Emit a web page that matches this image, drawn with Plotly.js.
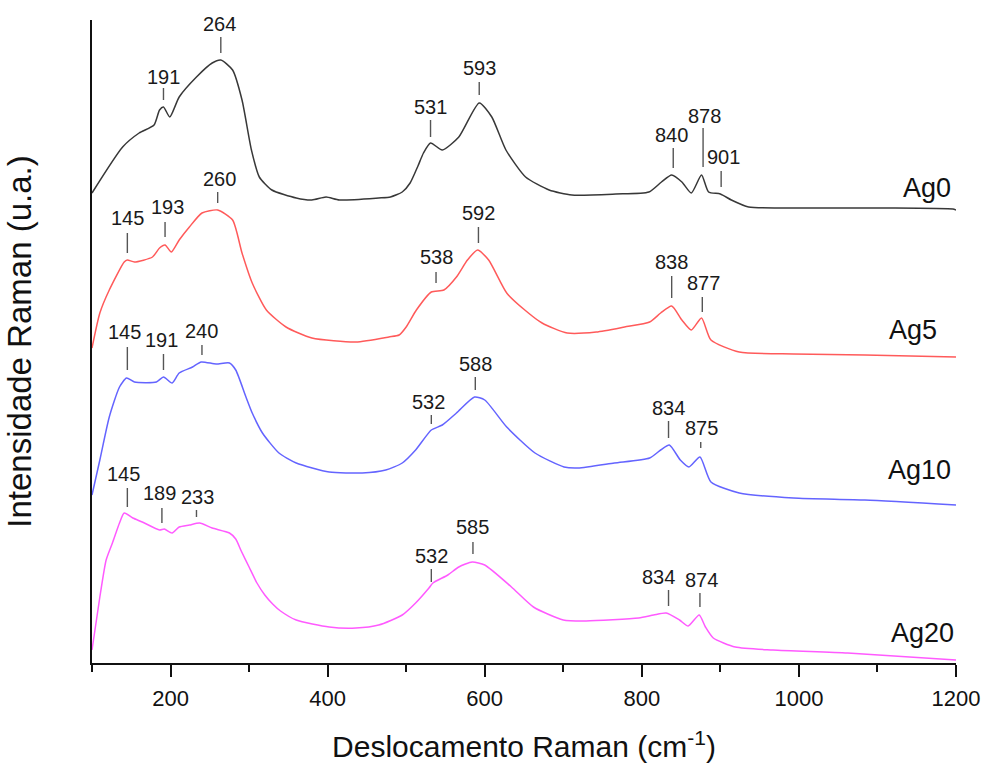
<!DOCTYPE html>
<html>
<head>
<meta charset="utf-8">
<script src="https://cdn.plot.ly/plotly-3.0.1.min.js"></script>
<style>html,body{margin:0;padding:0;background:#fff;}#chart{width:984px;height:765px;}</style>
</head>
<body>
<div id="chart"></div>
<script>
// ---- Data (Raman shift in cm-1, stacked intensity in a.u.) ----
const ag0X = [100,139,160,179,186,191,199,211,233,253,264,279,291,303,313,329,360,380,398,415,465,480,495,505,515,522,531,546,567,593,609,627,652,682,711,767,809,825,838,851,863,876,885,900,914,936,978,1110,1196,1200];
const ag0Y = [470,516,530,538,553,556,546,566,586,600,603,593,563,513,486,473,465,463,466,463,465,466,471,480,497,510,520,513,526,560,546,513,486,473,468,469,471,481,488,481,470,488,471,469,463,456,455,455,454,453];

const ag5X = [100,110,122,141,145,154,177,186,193,201,211,224,240,260,279,291,304,322,347,380,436,478,491,500,513,532,548,564,578,591,605,628,651,673,705,742,778,810,824,838,851,863,876,888,924,993,1084,1200];
const ag5Y = [315,350,373,401,403,401,406,415,418,411,423,436,450,453,443,410,380,353,336,325,321,326,328,336,353,371,373,386,403,413,403,370,353,340,330,331,336,341,350,357,343,333,345,323,311,309,308,306];

const ag10X = [100,110,122,135,144,154,182,191,202,211,228,239,258,275,283,296,304,317,338,360,402,444,474,495,512,532,546,564,587,600,628,664,701,719,765,810,824,835,849,860,874,888,924,993,1084,1200];
const ag10Y = [168,203,246,276,285,281,281,286,280,290,296,301,299,300,293,266,250,230,210,200,191,190,193,200,213,233,238,250,266,263,236,210,196,195,200,205,213,218,203,196,206,181,170,165,163,158];

const ag20X = [100,110,118,126,135,141,152,164,186,192,202,211,224,237,253,275,283,290,300,310,320,330,340,360,402,436,465,495,512,529,534,553,567,584,600,634,662,700,729,796,815,831,848,859,873,881,891,919,967,1062,1200];
const ag20Y = [13,66,103,120,140,150,145,141,133,134,130,136,138,140,135,130,124,112,96,80,68,59,52,43,36,35,38,48,60,75,80,88,96,101,98,76,56,43,42,45,48,50,43,37,48,36,25,16,13,10,3];

// Peak labels: values, label-marker bottom/top, label centre and label height for each sample
const ag0Peaks = [191,264,531,593,840,878,901];
const ag0Lo    = [563,610,526,568,495,496,476];
const ag0Hi    = [575,626,543,581,515,535,492];
const ag0TxtX  = [191,262,531,593,838,880,904];
const ag0Txt   = [586,639,556,595,528,547,506];

const ag5Peaks = [145,193,260,538,592,838,877];
const ag5Lo    = [410,426,460,380,420,365,351];
const ag5Hi    = [430,441,471,391,436,387,366];
const ag5TxtX  = [145,196,262,538,592,838,878];
const ag5Txt   = [445,456,484,406,450,401,380];

const ag10Peaks = [145,191,240,532,588,834,875];
const ag10Lo    = [293,293,308,239,273,225,215];
const ag10Hi    = [316,309,318,248,286,242,221];
const ag10TxtX  = [142,188,240,529,588,834,876];
const ag10Txt   = [331,323,332,261,299,255,235];

const ag20Peaks = [145,189,233,532,585,834,874];
const ag20Lo    = [156,140,146,81,109,57,56];
const ag20Hi    = [175,155,153,94,121,73,70];
const ag20TxtX  = [140,186,234,532,585,821,876];
const ag20Txt   = [189,170,166,107,136,86,83];

const sampleNames = ["Ag0","Ag5","Ag10","Ag20"];
const sampleLabelX = [1196,1178,1196,1200];
const sampleLabelY = [475,333,193,30];

const xTickVals = [200,400,600,800,1000,1200];

// ---- Build ----
const colors = ["#383838","#ff5a5a","#6464ff","#ff5aff"];
const series = [[ag0X,ag0Y],[ag5X,ag5Y],[ag10X,ag10Y],[ag20X,ag20Y]];
const traces = series.map((s,i)=>({
  x:s[0], y:s[1], type:"scatter", mode:"lines", name:sampleNames[i],
  line:{color:colors[i], width:1.5, shape:"spline", smoothing:0.6},
  hoverinfo:"x+y"
}));

const peakSets = [
  [ag0Peaks,ag0Lo,ag0Hi,ag0TxtX,ag0Txt],
  [ag5Peaks,ag5Lo,ag5Hi,ag5TxtX,ag5Txt],
  [ag10Peaks,ag10Lo,ag10Hi,ag10TxtX,ag10Txt],
  [ag20Peaks,ag20Lo,ag20Hi,ag20TxtX,ag20Txt]
];
const FONT = "Liberation Sans, Arial, sans-serif";
const shapes = [];
const annotations = [];
peakSets.forEach(ps=>{
  ps[0].forEach((p,j)=>{
    shapes.push({type:"line", xref:"x", yref:"y", x0:p, x1:p, y0:ps[1][j], y1:ps[2][j],
      line:{color:"#555555", width:1.4}});
    annotations.push({x:ps[3][j], y:ps[4][j], xref:"x", yref:"y", text:String(p), showarrow:false,
      xanchor:"center", yanchor:"middle", font:{family:FONT, size:20, color:"#1a1a1a"}});
  });
});
sampleNames.forEach((n,i)=>{
  annotations.push({x:sampleLabelX[i], y:sampleLabelY[i], xref:"x", yref:"y", text:n, showarrow:false,
    xanchor:"right", yanchor:"middle", font:{family:FONT, size:27, color:"#111"}});
});

const layout = {
  width:984, height:765,
  margin:{l:92, r:28, t:20, b:102},
  paper_bgcolor:"#fff", plot_bgcolor:"#fff",
  showlegend:false,
  font:{family:FONT, color:"#111"},
  xaxis:{
    range:[100,1200], tickvals:xTickVals, ticktext:xTickVals.map(String),
    showline:true, linecolor:"#111", linewidth:2, mirror:false,
    ticks:"outside", ticklen:12, tickwidth:2, tickcolor:"#111",
    minor:{dtick:100, tick0:0, ticks:"outside", ticklen:7, tickwidth:2, tickcolor:"#111", showgrid:false},
    showgrid:false, zeroline:false,
    tickfont:{size:22, color:"#111"}, ticklabelstandoff:3,
    title:{text:"Deslocamento Raman (cm<sup>-1</sup>)", font:{size:30, color:"#111"}, standoff:26}
  },
  yaxis:{
    range:[0,643], showline:true, linecolor:"#111", linewidth:2,
    ticks:"", showticklabels:false, showgrid:false, zeroline:false,
    title:{text:"Intensidade Raman (u.a.)", font:{size:33, color:"#111"}, standoff:48}
  },
  shapes:shapes,
  annotations:annotations
};

Plotly.newPlot("chart", traces, layout, {displayModeBar:false, staticPlot:true});
</script>
</body>
</html>
